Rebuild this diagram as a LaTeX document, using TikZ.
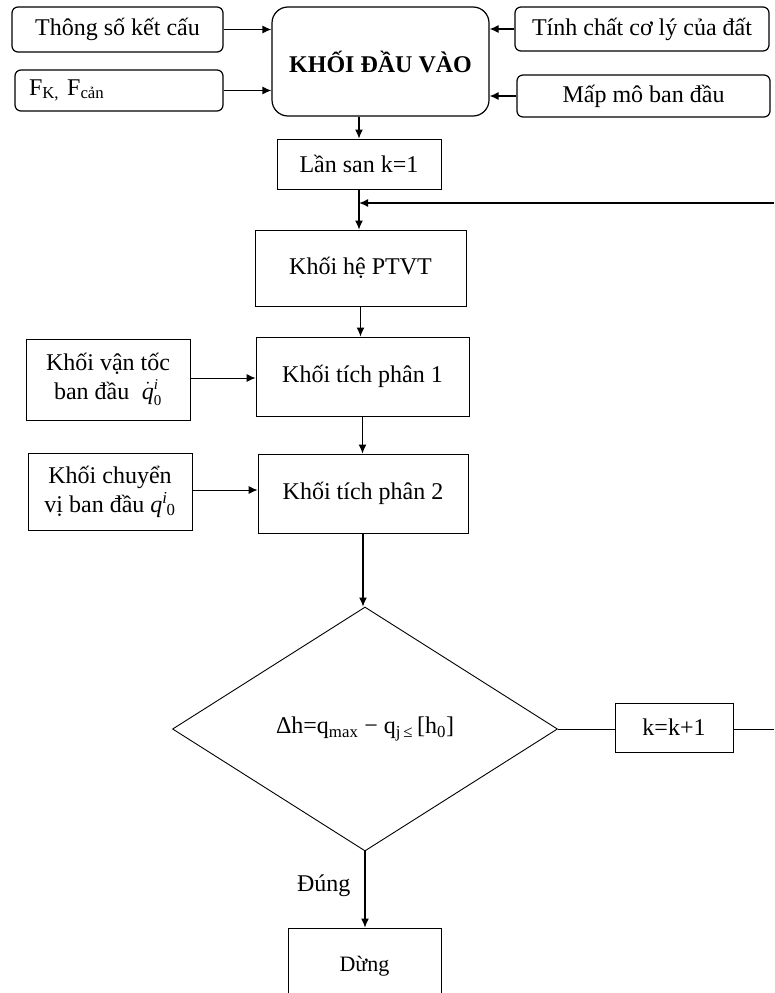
\documentclass[tikz,border=0pt]{standalone}
\usepackage{fontspec}
\setmainfont{Liberation Serif}
\usetikzlibrary{shapes.geometric,arrows.meta}
\newcommand{\smallit}[1]{\mbox{\fontsize{15pt}{17pt}\selectfont #1}}
\tikzset{
  txt/.style={font=\fontsize{24pt}{29pt}\selectfont, align=center, inner sep=2pt},
  inbox/.style={txt, draw, rounded corners=6pt, line width=1.2pt},
  blk/.style={txt, draw, rectangle, line width=0.9pt},
  arr/.style={->, line width=1.2pt},
}
\begin{document}
\begin{tikzpicture}[x=1pt, y=-1pt, >={Latex[length=9pt,width=8pt]}]
        \clip (0,0) rectangle (774,993);
        % input block
        \node (ts) at (117.5,29.5) [inbox, minimum width=211pt, minimum height=45pt] {Thông số kết cấu};
        \node (fk) at (119,90.5) [inbox, minimum width=208pt, minimum height=41pt, text width=180pt, align=left] {F\textsubscript{K,} F\textsubscript{cản}};
        \node (khoi) at (380.5,61.5) [inbox, rounded corners=16pt, minimum width=217pt, minimum height=109pt] {\textbf{KHỐI ĐẦU VÀO}};
        \node (tc) at (642,29) [inbox, minimum width=254pt, minimum height=44pt] {Tính chất cơ lý của đất};
        \node (mm) at (643.5,96) [inbox, minimum width=253pt, minimum height=42pt] {Mấp mô ban đầu};
        \draw[arr] (ts.east) -- (ts.east -| khoi.west);
        \draw[arr] (fk.east) -- (fk.east -| khoi.west);
        \draw[arr] (tc.west) -- (tc.west -| khoi.east);
        \draw[arr] (mm.west) -- (mm.west -| khoi.east);
        % main chain
        \node (ls) at (359,164) [blk, minimum width=164pt, minimum height=50pt] {Lần san k=1};
        \node (hept) at (360.5,268) [blk, minimum width=211pt, minimum height=76pt] {Khối hệ PTVT};
        \node (tp1) at (362.5,376.5) [blk, minimum width=213pt, minimum height=79pt] {Khối tích phân 1};
        \node (tp2) at (363,493.5) [blk, minimum width=210pt, minimum height=79pt] {Khối tích phân 2};
        \node (vt) at (108,379.5) [blk, minimum width=164pt, minimum height=81pt] {Khối vận tốc\\ban đầu \;$\dot{\mbox{\itshape q}}^{\smallit{\itshape i}}_{\smallit{0}}$};
        \node (cv) at (110,491.5) [blk, minimum width=164pt, minimum height=77pt] {Khối chuyển\\vị ban đầu {\itshape q}\textsuperscript{\itshape i}\kern-1pt\textsubscript{0}};
        \draw[arr] (ls.north |- khoi.south) -- (ls.north);
        \draw[arr] (ls.south) -- (ls.south |- hept.north);
        \draw[arr] (hept.south) -- (hept.south |- tp1.north);
        \draw[arr] (tp1.south) -- (tp1.south |- tp2.north);
        \draw[arr, line width=0.9pt] (vt.east |- 0,378) -- (tp1.west |- 0,378);
        \draw[arr, line width=0.9pt] (cv.east |- 0,490) -- (tp2.west |- 0,490);
        % test and loop
        \node (dk) at (365,729) [diamond, draw, line width=0.9pt, inner sep=0pt, minimum width=385pt, minimum height=244pt, font=\fontsize{24pt}{28pt}\selectfont] {Δh=q\textsubscript{max} − q\textsubscript{j\,≤}\,[h\textsubscript{0}]};
        \node (kk) at (674,727.5) [blk, minimum width=118pt, minimum height=49pt] {k=k+1};
        \node (dung) at (364.5,988) [blk, minimum width=153pt, minimum height=120pt] {};
        \node (dungtxt) at (364.5,966) [txt, font=\fontsize{22pt}{26pt}\selectfont] {Dừng};
        \coordinate (fbin) at (774,203);
        \coordinate (fbout) at (774,729);
        \draw[arr] (tp2.south) -- (tp2.south |- dk.north);
        \draw[line width=0.9pt] (dk.east) -- (dk.east -| kk.west);
        \draw[line width=0.9pt] (kk.east |- fbout) -- (fbout);
        \draw[arr, line width=1.6pt] (fbin) -- (fbin -| ls.south);
        \draw[arr] (dk.south) -- (dk.south |- dung.north) node[midway, left=12pt, txt, yshift=4pt] {Đúng};
    \end{tikzpicture}
\end{document}
